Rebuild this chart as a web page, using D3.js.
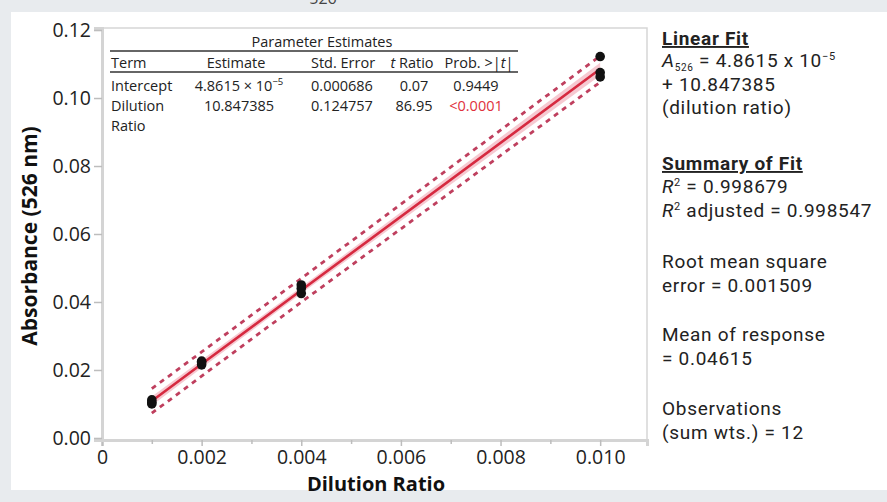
<!DOCTYPE html>
<html>
<head>
<meta charset="utf-8">
<script src="https://cdn.jsdelivr.net/npm/d3@7/dist/d3.min.js"></script>
<style>
  body { margin: 0; background: #e8ebee; }
  svg { display: block; font-family: "Open Sans", sans-serif; }
</style>
</head>
<body>
<svg id="chart" width="887" height="502"></svg>
<script>
// observations (dilution ratio, absorbance at 526 nm)
var dilution = [0.001, 0.001, 0.001, 0.002, 0.002, 0.002, 0.004, 0.004, 0.004, 0.010, 0.010, 0.010];
var absorbance = [0.0105, 0.0112, 0.0100, 0.0215, 0.0222, 0.0226, 0.0425, 0.0440, 0.0450, 0.1122, 0.1075, 0.1062];

// fit results
var intercept = 4.8615e-5;
var slope = 10.847385;
var rmse = 0.001509;
var tCrit = 2.228; // t(0.975, 10 df)

var xTicks = [0, 0.002, 0.004, 0.006, 0.008, 0.010];
var xMinorTicks = [0.001, 0.003, 0.005, 0.007, 0.009];
var yTicks = [0, 0.02, 0.04, 0.06, 0.08, 0.10, 0.12];

var tableHead = ["Term", "Estimate", "Std. Error", "t Ratio", "Prob. >|t|"];
var tableRows = [
  ["Intercept", "4.8615 × 10", "0.000686", "0.07", "0.9449"],
  ["Dilution", "10.847385", "0.124757", "86.95", "<0.0001"]
];

var svg = d3.select("#chart");

svg.append("rect").attr("width", 887).attr("height", 502).attr("fill", "#e8ebee");
svg.append("rect").attr("x", 11).attr("y", 12).attr("width", 876).attr("height", 478).attr("fill", "#fff");

// cut-off text at the very top (as in the source image)
svg.append("text").attr("x", 323).attr("y", 4).attr("text-anchor", "middle")
  .attr("font-size", 16).attr("fill", "#444").text("526");

var x = d3.scaleLinear().domain([0, 0.01094]).range([102, 647]);
var y = d3.scaleLinear().domain([-0.0006, 0.1206]).range([440, 28]);

// plot frame
svg.append("rect").attr("x", 102).attr("y", 28).attr("width", 545).attr("height", 412)
  .attr("fill", "none").attr("stroke", "#d6d6d6").attr("stroke-width", 1.5);

// axes
var xAxis = svg.append("g").attr("transform", "translate(0,440)")
  .call(d3.axisBottom(x).tickValues(xTicks).tickSize(6)
    .tickFormat(function(d) { return d === 0 ? "0" : d3.format(".3f")(d); }));
svg.append("g").attr("transform", "translate(0,440)")
  .call(d3.axisBottom(x).tickValues(xMinorTicks).tickSize(4).tickFormat(""))
  .call(function(g) { g.select(".domain").remove(); });

var yAxis = svg.append("g").attr("transform", "translate(102,0)")
  .call(d3.axisLeft(y).tickValues(yTicks).tickSize(8).tickFormat(d3.format(".2f")));

[xAxis, yAxis].forEach(function(g) {
  g.select(".domain").attr("stroke", "#d4d4d4").attr("stroke-width", 3);
  g.selectAll(".tick text").attr("font-family", "Open Sans").attr("font-size", 19.5).attr("fill", "#222");
});
svg.selectAll(".tick line").attr("stroke", "#bdbdbd").attr("stroke-width", 1.5);
xAxis.selectAll(".tick text").attr("dy", "0.78em");
yAxis.selectAll(".tick text").attr("x", -11).attr("dy", "0.35em");

// axis titles
svg.append("text").attr("x", 376).attr("y", 491).attr("text-anchor", "middle")
  .attr("font-size", 20).attr("font-weight", "bold").attr("fill", "#111").text("Dilution Ratio");
svg.append("text").attr("transform", "translate(37,236) rotate(-90)").attr("text-anchor", "middle")
  .attr("font-size", 21).attr("font-weight", "bold").attr("fill", "#111").text("Absorbance (526 nm)");

// fit and intervals, evaluated at the observed dilution ratios
var n = dilution.length;
var xMean = d3.mean(dilution);
var sxx = d3.sum(dilution, function(d) { return (d - xMean) * (d - xMean); });
var xs = Array.from(new Set(dilution)).sort(d3.ascending);
var band = xs.map(function(d) {
  var fit = intercept + slope * d;
  var h = (d - xMean) * (d - xMean) / sxx;
  var ci = tCrit * rmse * Math.sqrt(1 / n + h);
  var pi = tCrit * rmse * Math.sqrt(1 + 1 / n + h);
  return { x: d, fit: fit, ciLo: fit - ci, ciHi: fit + ci, piLo: fit - pi, piHi: fit + pi };
});

svg.append("path").datum(band)
  .attr("fill", "#f4bcc6").attr("opacity", 0.8)
  .attr("d", d3.area().x(function(d) { return x(d.x); })
    .y0(function(d) { return y(d.ciLo); }).y1(function(d) { return y(d.ciHi); }));

["piLo", "piHi"].forEach(function(k) {
  svg.append("path").datum(band)
    .attr("fill", "none").attr("stroke", "#bf3f5e").attr("stroke-width", 2.8)
    .attr("stroke-dasharray", "5,5")
    .attr("d", d3.line().x(function(d) { return x(d.x); }).y(function(d) { return y(d[k]); }));
});

svg.append("path").datum(band)
  .attr("fill", "none").attr("stroke", "#d62a40").attr("stroke-width", 2.6)
  .attr("d", d3.line().x(function(d) { return x(d.x); }).y(function(d) { return y(d.fit); }));

svg.append("g").selectAll("circle")
  .data(dilution.map(function(d, i) { return [d, absorbance[i]]; }))
  .enter().append("circle")
  .attr("cx", function(d) { return x(d[0]); })
  .attr("cy", function(d) { return y(d[1]); })
  .attr("r", 4.8)
  .attr("fill", "#111");

// parameter estimates table
var tbl = svg.append("g").attr("font-size", 14.5).attr("fill", "#222");
tbl.append("text").attr("x", 322).attr("y", 47).attr("text-anchor", "middle").text("Parameter Estimates");
tbl.append("line").attr("x1", 110).attr("x2", 518).attr("y1", 51).attr("y2", 51)
  .attr("stroke", "#333").attr("stroke-width", 1.3);
tbl.append("line").attr("x1", 110).attr("x2", 518).attr("y1", 72).attr("y2", 72)
  .attr("stroke", "#333").attr("stroke-width", 1.3);

var colX = [111, 236, 343, 412, 479];
var colAnchor = ["start", "middle", "middle", "middle", "middle"];
tableHead.forEach(function(h, i) {
  var t = tbl.append("text").attr("x", colX[i]).attr("y", 68).attr("text-anchor", colAnchor[i]);
  if (i === 3) {
    t.append("tspan").attr("font-style", "italic").text("t");
    t.append("tspan").text(" Ratio");
  } else if (i === 4) {
    t.append("tspan").text("Prob. >|");
    t.append("tspan").attr("font-style", "italic").text("t");
    t.append("tspan").text("|");
  } else {
    t.text(h);
  }
});

var rowY = [91, 111];
var cellX = [111, 239, 342, 414, 476];
tableRows.forEach(function(row, r) {
  row.forEach(function(c, i) {
    var t = tbl.append("text").attr("x", cellX[i]).attr("y", rowY[r])
      .attr("text-anchor", colAnchor[i]);
    if (r === 1 && i === 4) t.attr("fill", "#e0303c");
    t.text(c);
    if (r === 0 && i === 1) {
      t.append("tspan").attr("font-size", 9.5).attr("dy", -6).text("−5");
    }
  });
});
tbl.append("text").attr("x", 111).attr("y", 131).text("Ratio");

// summary text on the right
var side = svg.append("g").attr("font-family", "Roboto").attr("font-size", 19)
  .attr("fill", "#222").attr("letter-spacing", 0.7);
var sx = 662;
side.append("text").attr("x", sx).attr("y", 45).attr("font-weight", "bold")
  .attr("text-decoration", "underline").text("Linear Fit");
var eq = side.append("text").attr("x", sx).attr("y", 67);
eq.append("tspan").attr("font-style", "italic").text("A");
eq.append("tspan").attr("font-size", 10).attr("dy", 4).text("526");
eq.append("tspan").attr("dy", -4).text(" = 4.8615 x 10");
eq.append("tspan").attr("font-size", 11).attr("dy", -7).text("−5");
side.append("text").attr("x", sx).attr("y", 91).text("+ 10.847385");
side.append("text").attr("x", sx).attr("y", 114).text("(dilution ratio)");

side.append("text").attr("x", sx).attr("y", 170).attr("font-weight", "bold")
  .attr("text-decoration", "underline").text("Summary of Fit");
var r1 = side.append("text").attr("x", sx).attr("y", 193);
r1.append("tspan").attr("font-style", "italic").text("R");
r1.append("tspan").attr("font-size", 11).attr("dy", -7).text("2");
r1.append("tspan").attr("dy", 7).text(" = 0.998679");
var r2 = side.append("text").attr("x", sx).attr("y", 217);
r2.append("tspan").attr("font-style", "italic").text("R");
r2.append("tspan").attr("font-size", 11).attr("dy", -7).text("2");
r2.append("tspan").attr("dy", 7).text(" adjusted = 0.998547");

var lines = [
  ["Root mean square", 268], ["error = 0.001509", 292],
  ["Mean of response", 341], ["= 0.04615", 365],
  ["Observations", 415], ["(sum wts.) = 12", 439]
];
lines.forEach(function(l) {
  side.append("text").attr("x", sx).attr("y", l[1]).text(l[0]);
});
</script>
</body>
</html>
